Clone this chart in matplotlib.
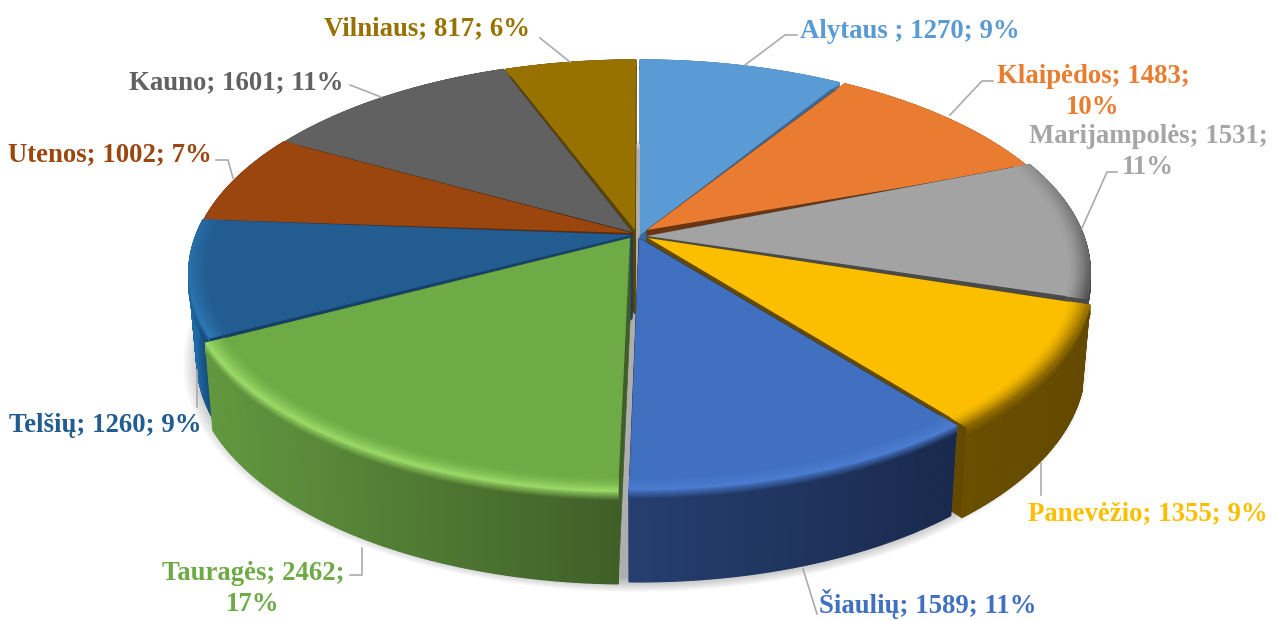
import numpy as np
import matplotlib
matplotlib.use("Agg")
import matplotlib.pyplot as plt
from matplotlib.collections import PolyCollection
from matplotlib.colors import to_rgb

names = ["Alytaus ", "Klaipėdos", "Marijampolės", "Panevėžio", "Šiaulių",
         "Tauragės", "Telšių", "Utenos", "Kauno", "Vilniaus"]
values = [1270, 1483, 1531, 1355, 1589, 2462, 1260, 1002, 1601, 817]
colors = ["#5B9BD5", "#E97C30", "#A3A3A3", "#FBBF00", "#4170C0",
          "#6EAB46", "#235C90", "#9B460E", "#616161", "#977200"]
wall_left = ["#3A6A98", "#7A3F12", "#5A5A5A", "#6A4F00", "#263F70",
             "#62983F", "#1F6AA5", "#5C2A08", "#3A3A3A", "#5A4400"]
wall_right = ["#3A6A98", "#6A3510", "#4A4A4A", "#634A00", "#1A2A4E",
              "#405F28", "#14406C", "#5C2A08", "#333333", "#5A4400"]
rim = ["#5B9BD5", "#E97C30", "#4A4A4A", "#8A6600", "#4A7CD0",
       "#9AD866", "#2C78B4", "#9B460E", "#616161", "#977200"]
tip_x = [640, 647, 647, 648, 639, 630, 632, 632, 632, 635]
tip_y = [235, 230, 236, 238, 238, 238, 235, 233, 232, 230]
arc_x = [640, 645, 647, 650, 639, 628, 632, 633, 634, 636]
arc_y = [235, 236, 234, 240, 238, 240, 235, 235, 235, 235]
wrap = [False, True, True, False, False, True, False, False, False, False]
label_x = [910, 1093, 1148, 1148, 928, 253, 105, 110, 236, 427]
label_y = [31, 92, 152, 514, 604, 589, 425, 155, 83, 29]
lead_x = [[745, 785, 797], [950, 982, 993], [1082, 1107, 1117], [1041, 1041], [803, 817],
          [362, 362, 350], [197, 197], [233, 228, 216], [381, 350], [570, 540]]
lead_y = [[65, 35, 35], [115, 81, 81], [228, 172, 172], [463, 495], [569, 614],
          [548, 575, 575], [370, 407], [178, 160, 160], [97, 85], [62, 38]]

RX, RY, P = 436.0, 206.5, 0.18


def project(theta, r, tx, ty):
    """Disk point -> screen with a perspective divide; theta clockwise from 12 o'clock."""
    u, v = r * np.sin(theta), r * np.cos(theta)
    w = 1 + P * v
    return tx + RX * u / w, ty - RY * v / w


def lower(x, y, tx, theta):
    near = np.clip(-np.cos(theta), 0, 1)
    return tx + (x - tx) * 0.982, y + 84 + 8 * near


def mix(a, b, t):
    a, b = np.array(to_rgb(a)), np.array(to_rgb(b))
    return tuple(a + (b - a) * t)


def shade(i, x, lo, hi):
    return mix(wall_left[i], wall_right[i], (x - lo) / max(hi - lo, 1))


total = sum(values)
edges = np.radians(np.concatenate([[0], np.cumsum(values)]) / total * 360)

fig = plt.figure(figsize=(12.72, 6.2), dpi=100)
ax = fig.add_axes([0, 0, 1, 1])
ax.set_xlim(0, 1272)
ax.set_ylim(620, 0)
ax.axis("off")

# soft shadow under the whole pie
th = np.linspace(0, 2 * np.pi, 361)
sx, sy = project(th, 1.0, 636, 235)
sx, sy = lower(sx, sy, 636, th)
for s in np.linspace(1.04, 0.98, 24):
    ax.fill(636 + (sx - 636) * s, 330 + (sy + 3 - 330) * s, color="#6A6A6A", alpha=0.026, lw=0, zorder=1)

order = sorted(range(len(values)), key=lambda i: -np.cos((edges[i] + edges[i + 1]) / 2))
z = 2
for i in order:
    a0, a1 = edges[i], edges[i + 1]
    t = np.linspace(a0, a1, 90)
    tx, ty = tip_x[i], tip_y[i]
    ox, oy = arc_x[i], arc_y[i]
    rx, ry = project(t, 1.0, ox, oy)
    bx, by = lower(rx, ry, ox, t)
    near = np.clip(0.55 - np.cos(t), 0, 1)
    lo, hi = rx.min(), rx.max()

    # cut faces
    bt = ty + 84
    for j in (0, -1):
        ax.fill([tx, rx[j], bx[j], tx], [ty, ry[j], by[j], bt],
                color=wall_right[i], lw=0.5, zorder=z)

    # outer wall, shaded along x
    polys = [[(rx[k], ry[k]), (rx[k + 1], ry[k + 1]), (bx[k + 1], by[k + 1]), (bx[k], by[k])]
             for k in range(len(t) - 1)]
    cols = [shade(i, rx[k], lo, hi) for k in range(len(t) - 1)]
    ax.add_collection(PolyCollection(polys, facecolors=cols, edgecolors=cols, linewidths=1.0, zorder=z))

    # fade from the rim colour into the wall
    steps = np.linspace(0, 10, 11)
    for d0, d1, fade in zip(steps[:-1], steps[1:], np.linspace(0.1, 1.0, 10)):
        polys = [[(rx[k], ry[k] + d0), (rx[k + 1], ry[k + 1] + d0),
                  (rx[k + 1], ry[k + 1] + d1), (rx[k], ry[k] + d1)] for k in range(len(t) - 1)]
        cols = [mix(rim[i], shade(i, rx[k], lo, hi), fade) for k in range(len(t) - 1)]
        ax.add_collection(PolyCollection(polys, facecolors=cols, edgecolors=cols, linewidths=0.8, zorder=z))

    # top face with a smooth bevel at the rim, fading toward the back of the pie
    ax.fill(np.r_[tx, rx, tx], np.r_[ty, ry, ty], color=colors[i], lw=0, zorder=z)
    rs = np.linspace(0.955, 1.0, 10)
    for n in range(9):
        x0, y0 = project(t, rs[n], ox, oy)
        x1, y1 = project(t, rs[n + 1], ox, oy)
        polys = [[(x0[k], y0[k]), (x0[k + 1], y0[k + 1]), (x1[k + 1], y1[k + 1]), (x1[k], y1[k])]
                 for k in range(len(t) - 1)]
        cols = [mix(colors[i], rim[i], near[k] * ((n + 1) / 9) ** 1.5) for k in range(len(t) - 1)]
        ax.add_collection(PolyCollection(polys, facecolors=cols, edgecolors=cols, linewidths=0.6, zorder=z))
    z += 1

# labels and leader lines
for i, name in enumerate(names):
    pct = round(values[i] / total * 100)
    sep = "\n" if wrap[i] else " "
    ax.text(label_x[i], label_y[i], f"{name}; {values[i]};{sep}{pct}%", ha="center", va="center",
            family="Liberation Serif", weight="bold", fontsize=19.3, color=colors[i] if i != 2 else "#A5A5A5",
            linespacing=1.31, zorder=50)
    ax.plot(lead_x[i], lead_y[i], color="#ABABAB", lw=1.2, zorder=40, solid_joinstyle="miter")

fig.savefig("out.png", dpi=100)
